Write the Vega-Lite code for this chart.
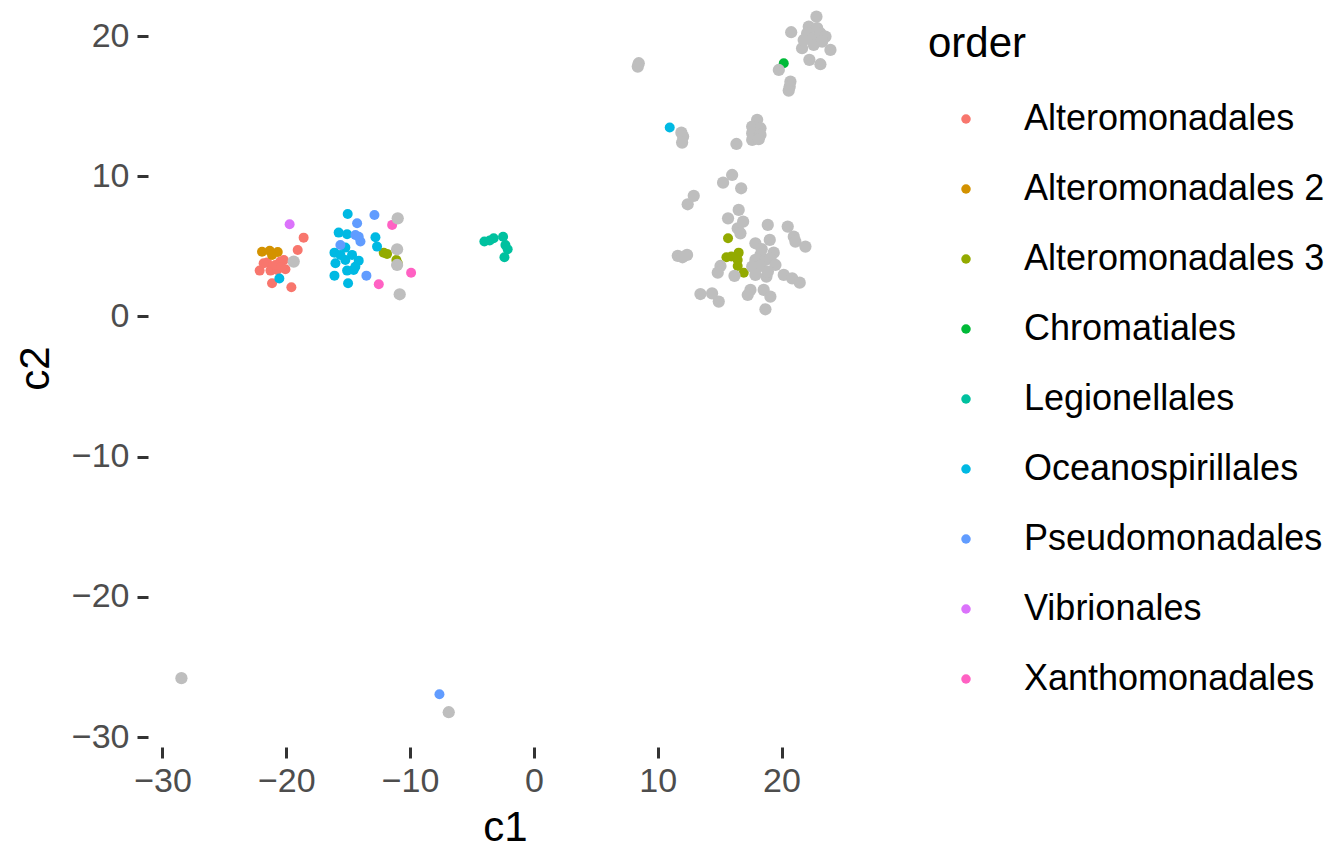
{
  "$schema": "https://vega.github.io/schema/vega-lite/v6.json",
  "autosize": "none",
  "width": 714,
  "height": 747,
  "padding": {"left": 148, "top": 0, "right": 468, "bottom": 102},
  "background": "white",
  "config": {
    "view": {"stroke": null},
    "font": "Liberation Sans",
    "axis": {
      "grid": false, "domain": false, "tickSize": 11, "tickWidth": 3, "tickColor": "#333333",
      "labelFontSize": 34, "labelColor": "#4D4D4D", "labelFont": "Liberation Sans",
      "titleFontSize": 42, "titleColor": "black", "titleFontWeight": "normal", "titleFont": "Liberation Sans"
    }
  },
  "datasets": {
    "fg": [
      {"c1": -18.6, "c2": 5.62, "order": "Alteromonadales"},
      {"c1": -19.08, "c2": 4.74, "order": "Alteromonadales"},
      {"c1": -22.15, "c2": 3.27, "order": "Alteromonadales"},
      {"c1": -21.55, "c2": 3.84, "order": "Alteromonadales"},
      {"c1": -21.28, "c2": 3.27, "order": "Alteromonadales"},
      {"c1": -20.74, "c2": 3.32, "order": "Alteromonadales"},
      {"c1": -20.48, "c2": 3.91, "order": "Alteromonadales"},
      {"c1": -20.2, "c2": 4.03, "order": "Alteromonadales"},
      {"c1": -20.07, "c2": 3.37, "order": "Alteromonadales"},
      {"c1": -21.15, "c2": 2.37, "order": "Alteromonadales"},
      {"c1": -19.59, "c2": 2.08, "order": "Alteromonadales"},
      {"c1": -20.88, "c2": 3.67, "order": "Alteromonadales"},
      {"c1": -21.83, "c2": 3.79, "order": "Alteromonadales"},
      {"c1": -20.4, "c2": 3.5, "order": "Alteromonadales"},
      {"c1": -21.96, "c2": 4.62, "order": "Alteromonadales 2"},
      {"c1": -21.34, "c2": 4.69, "order": "Alteromonadales 2"},
      {"c1": -20.69, "c2": 4.6, "order": "Alteromonadales 2"},
      {"c1": -21.15, "c2": 4.39, "order": "Alteromonadales 2"},
      {"c1": -12.13, "c2": 4.55, "order": "Alteromonadales 3"},
      {"c1": -11.86, "c2": 4.46, "order": "Alteromonadales 3"},
      {"c1": -11.11, "c2": 4.03, "order": "Alteromonadales 3"},
      {"c1": -11.0, "c2": 3.79, "order": "Alteromonadales 3"},
      {"c1": 15.68, "c2": 5.58, "order": "Alteromonadales 3"},
      {"c1": 15.55, "c2": 4.22, "order": "Alteromonadales 3"},
      {"c1": 15.95, "c2": 4.27, "order": "Alteromonadales 3"},
      {"c1": 16.54, "c2": 4.55, "order": "Alteromonadales 3"},
      {"c1": 16.46, "c2": 4.03, "order": "Alteromonadales 3"},
      {"c1": 16.46, "c2": 3.6, "order": "Alteromonadales 3"},
      {"c1": 16.95, "c2": 3.12, "order": "Alteromonadales 3"},
      {"c1": 20.18, "c2": 18.06, "order": "Chromatiales"},
      {"c1": -4.0, "c2": 5.34, "order": "Legionellales"},
      {"c1": -3.57, "c2": 5.41, "order": "Legionellales"},
      {"c1": -3.25, "c2": 5.58, "order": "Legionellales"},
      {"c1": -2.49, "c2": 5.69, "order": "Legionellales"},
      {"c1": -2.3, "c2": 5.1, "order": "Legionellales"},
      {"c1": -2.12, "c2": 4.79, "order": "Legionellales"},
      {"c1": -2.38, "c2": 4.22, "order": "Legionellales"},
      {"c1": -20.56, "c2": 2.7, "order": "Oceanospirillales"},
      {"c1": -15.04, "c2": 7.31, "order": "Oceanospirillales"},
      {"c1": -15.77, "c2": 5.98, "order": "Oceanospirillales"},
      {"c1": -15.09, "c2": 5.86, "order": "Oceanospirillales"},
      {"c1": -12.8, "c2": 5.65, "order": "Oceanospirillales"},
      {"c1": -12.67, "c2": 4.98, "order": "Oceanospirillales"},
      {"c1": -16.11, "c2": 4.55, "order": "Oceanospirillales"},
      {"c1": -15.23, "c2": 4.91, "order": "Oceanospirillales"},
      {"c1": -14.69, "c2": 4.39, "order": "Oceanospirillales"},
      {"c1": -16.03, "c2": 3.79, "order": "Oceanospirillales"},
      {"c1": -15.23, "c2": 4.03, "order": "Oceanospirillales"},
      {"c1": -14.15, "c2": 3.98, "order": "Oceanospirillales"},
      {"c1": -14.42, "c2": 3.55, "order": "Oceanospirillales"},
      {"c1": -15.09, "c2": 3.27, "order": "Oceanospirillales"},
      {"c1": -14.56, "c2": 3.32, "order": "Oceanospirillales"},
      {"c1": -16.11, "c2": 2.91, "order": "Oceanospirillales"},
      {"c1": -15.01, "c2": 2.37, "order": "Oceanospirillales"},
      {"c1": -15.63, "c2": 4.39, "order": "Oceanospirillales"},
      {"c1": 10.97, "c2": 13.47, "order": "Oceanospirillales"},
      {"c1": -12.88, "c2": 7.24, "order": "Pseudomonadales"},
      {"c1": -14.28, "c2": 6.65, "order": "Pseudomonadales"},
      {"c1": -14.42, "c2": 5.81, "order": "Pseudomonadales"},
      {"c1": -14.01, "c2": 5.34, "order": "Pseudomonadales"},
      {"c1": -15.63, "c2": 5.1, "order": "Pseudomonadales"},
      {"c1": -13.53, "c2": 2.91, "order": "Pseudomonadales"},
      {"c1": -14.15, "c2": 5.69, "order": "Pseudomonadales"},
      {"c1": -7.63, "c2": -26.95, "order": "Pseudomonadales"},
      {"c1": -19.73, "c2": 6.58, "order": "Vibrionales"},
      {"c1": -11.45, "c2": 6.53, "order": "Xanthomonadales"},
      {"c1": -9.92, "c2": 3.12, "order": "Xanthomonadales"},
      {"c1": -12.53, "c2": 2.3, "order": "Xanthomonadales"}
    ],
    "bg": [
      {"c1": -19.4, "c2": 3.91}, {"c1": -11.0, "c2": 7.0}, {"c1": -11.05, "c2": 4.79}, {"c1": -11.05, "c2": 3.67},
      {"c1": -10.84, "c2": 1.58}, {"c1": -28.47, "c2": -25.8}, {"c1": -6.88, "c2": -28.23},
      {"c1": 8.47, "c2": 18.06}, {"c1": 8.39, "c2": 17.82}, {"c1": 11.91, "c2": 13.11}, {"c1": 12.05, "c2": 12.83},
      {"c1": 11.97, "c2": 12.4}, {"c1": 16.36, "c2": 12.3}, {"c1": 18.03, "c2": 14.02}, {"c1": 17.63, "c2": 13.54},
      {"c1": 18.3, "c2": 13.42}, {"c1": 17.63, "c2": 13.07}, {"c1": 18.3, "c2": 12.95}, {"c1": 17.63, "c2": 12.59},
      {"c1": 18.16, "c2": 12.64},
      {"c1": 19.78, "c2": 17.58}, {"c1": 20.72, "c2": 16.75}, {"c1": 20.66, "c2": 16.39}, {"c1": 20.58, "c2": 16.11},
      {"c1": 20.78, "c2": 20.27}, {"c1": 22.82, "c2": 21.38}, {"c1": 22.2, "c2": 20.67}, {"c1": 22.07, "c2": 20.2},
      {"c1": 22.88, "c2": 20.56}, {"c1": 22.47, "c2": 19.84}, {"c1": 23.14, "c2": 20.2}, {"c1": 23.55, "c2": 19.96},
      {"c1": 21.66, "c2": 19.13}, {"c1": 22.6, "c2": 19.37}, {"c1": 23.28, "c2": 19.6}, {"c1": 23.95, "c2": 19.01},
      {"c1": 22.25, "c2": 18.3}, {"c1": 23.14, "c2": 17.99}, {"c1": 21.79, "c2": 19.72},
      {"c1": 15.28, "c2": 9.54}, {"c1": 16.01, "c2": 10.09}, {"c1": 16.74, "c2": 9.14}, {"c1": 12.91, "c2": 8.6},
      {"c1": 12.42, "c2": 8.0}, {"c1": 16.54, "c2": 7.6}, {"c1": 15.68, "c2": 7.0}, {"c1": 16.9, "c2": 6.76},
      {"c1": 16.46, "c2": 6.29}, {"c1": 16.68, "c2": 5.93}, {"c1": 18.89, "c2": 6.53}, {"c1": 20.5, "c2": 6.41},
      {"c1": 20.99, "c2": 5.69}, {"c1": 21.12, "c2": 5.34}, {"c1": 21.93, "c2": 4.98}, {"c1": 17.89, "c2": 5.22},
      {"c1": 19.05, "c2": 5.46}, {"c1": 11.62, "c2": 4.32}, {"c1": 12.37, "c2": 4.39}, {"c1": 12.0, "c2": 4.22},
      {"c1": 18.3, "c2": 4.39}, {"c1": 19.37, "c2": 4.55}, {"c1": 17.89, "c2": 4.03}, {"c1": 18.7, "c2": 4.03},
      {"c1": 19.1, "c2": 4.15}, {"c1": 19.51, "c2": 3.67}, {"c1": 17.63, "c2": 3.55}, {"c1": 18.3, "c2": 3.6},
      {"c1": 15.07, "c2": 3.6}, {"c1": 14.85, "c2": 3.12}, {"c1": 16.2, "c2": 2.89}, {"c1": 17.89, "c2": 2.96},
      {"c1": 18.78, "c2": 2.84}, {"c1": 20.18, "c2": 2.96}, {"c1": 20.86, "c2": 2.72}, {"c1": 21.47, "c2": 2.41},
      {"c1": 13.45, "c2": 1.6}, {"c1": 14.39, "c2": 1.65}, {"c1": 14.93, "c2": 1.06}, {"c1": 17.49, "c2": 1.89},
      {"c1": 17.27, "c2": 1.53}, {"c1": 18.56, "c2": 1.89}, {"c1": 19.1, "c2": 1.41}, {"c1": 18.7, "c2": 0.51},
      {"c1": 18.4, "c2": 4.8}, {"c1": 18.9, "c2": 3.2}
    ]
  },
  "encoding": {
    "x": {"field": "c1", "type": "quantitative", "title": "c1",
      "scale": {"domain": [-31.17, 26.5], "nice": false, "zero": false},
      "axis": {"values": [-30, -20, -10, 0, 10, 20], "labelPadding": 6, "titlePadding": 9}},
    "y": {"field": "c2", "type": "quantitative", "title": "c2",
      "scale": {"domain": [-30.71, 22.57], "nice": false, "zero": false},
      "axis": {"values": [-30, -20, -10, 0, 10, 20], "labelPadding": 8,
        "titleX": -113, "titleY": 368, "titleAlign": "center", "titleBaseline": "middle", "titleAngle": 270}}
  },
  "layer": [
    {
      "data": {"name": "fg"},
      "mark": {"type": "circle", "size": 100, "opacity": 1},
      "encoding": {
        "color": {"field": "order", "type": "nominal", "title": "order",
          "scale": {"domain": ["Alteromonadales", "Alteromonadales 2", "Alteromonadales 3", "Chromatiales", "Legionellales", "Oceanospirillales", "Pseudomonadales", "Vibrionales", "Xanthomonadales"],
            "range": ["#F8766D", "#D39200", "#93AA00", "#00BA38", "#00C19F", "#00B9E3", "#619CFF", "#DB72FB", "#FF61C3"]},
          "legend": {"orient": "none", "legendX": 780, "legendY": 24, "padding": 0,
            "titleFontSize": 42, "titleFontWeight": "normal", "titleColor": "black", "titlePadding": 35,
            "labelFontSize": 36, "labelColor": "black", "labelOffset": 40, "symbolOffset": 20,
            "symbolType": "circle", "symbolSize": 90, "symbolStrokeWidth": 0, "rowPadding": 34, "labelLimit": 400}}
      }
    },
    {
      "data": {"name": "bg"},
      "mark": {"type": "circle", "size": 150, "color": "#BEBEBE", "opacity": 1}
    }
  ]
}
